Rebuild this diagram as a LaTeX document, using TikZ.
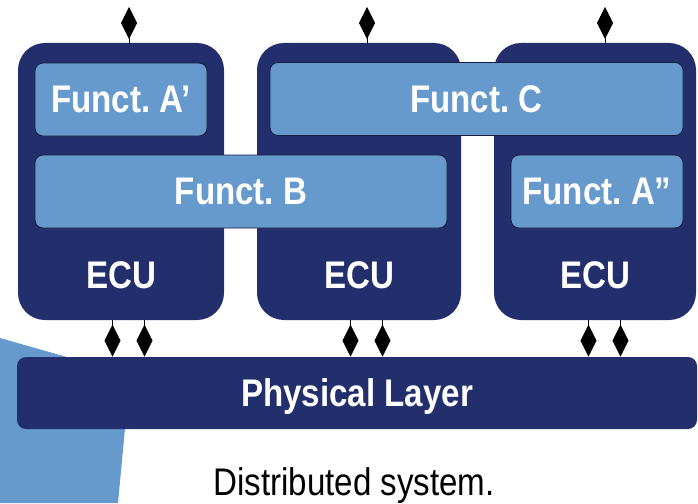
\documentclass[tikz,border=0pt]{standalone}
\usepackage{fontspec}
\setmainfont{Liberation Sans}[FakeStretch=0.86]
\usetikzlibrary{arrows.meta,calc,positioning}
\definecolor{navy}{RGB}{35,46,108}
\definecolor{lightblue}{RGB}{102,153,204}
\newcommand{\bigtext}{\fontsize{38.5}{40}\selectfont}
\frenchspacing
\begin{document}
\begin{tikzpicture}[x=1pt, y=-1pt, thick,
    ecu/.style = {fill=navy, rounded corners=27pt, minimum height=277pt, inner sep=0pt},
    funct/.style = {draw=navy!60!black, line width=0.8pt, fill=lightblue, rounded corners=8pt, minimum height=73pt, inner sep=0pt, text=white, font=\bfseries\bigtext, text depth=0pt},
    lbl/.style = {inner sep=0pt, text=white, font=\bfseries\bigtext, text depth=0pt},
    layer/.style = {fill=navy, rounded corners=9pt, minimum width=680pt, minimum height=72pt, inner sep=0pt, text=white, font=\bfseries\bigtext, text depth=0pt},
    dia/.style = {line width=0.6pt, -{Diamond[length=32pt, width=16pt]}}]
    \useasboundingbox (0,0) rectangle (698,503);

    % background
    \fill[lightblue] (0,338) -- (130,375) -- (118,503) -- (0,503) -- cycle;

    \node[ecu, minimum width=206pt] (e1) at (121,181.5) {};
    \node[ecu, minimum width=204pt] (e2) at (359,181.5) {};
    \node[ecu, minimum width=202pt] (e3) at (595,181.5) {};

    \node[funct, minimum width=172pt] (fa) at (121,99.5) {Funct. A’};
    \node[funct, minimum width=412pt] (fb) at (241,191.5) {Funct. B};
    \node[funct, minimum width=413pt] (fc) at (476.5,99) {Funct. C};
    \node[funct, minimum width=172pt] (fa2) at (597,191.5) {Funct. A”};

    \node[lbl, above=32pt of e1.south] (l1) {ECU};
    \node[lbl, above=32pt of e2.south] (l2) {ECU};
    \node[lbl, above=32pt of e3.south] (l3) {ECU};

    \node[layer] (pl) at (357,393) {Physical Layer};
    \node[inner sep=0pt, font=\bigtext, text depth=0pt] (cap) at (354,481.5) {Distributed system.};

    \foreach \n/\x in {e1/129, e2/367, e3/605} {
        \coordinate (t\n) at (\x,7);
        \draw[dia] (\n.north -| t\n) -- (t\n);
        \draw[dia] ($(\n.south -| t\n)+(-16.5,0)$) -- ($(pl.north -| t\n)+(-16.5,0)$);
        \draw[dia] ($(\n.south -| t\n)+(15.5,0)$) -- ($(pl.north -| t\n)+(15.5,0)$);
    }
\end{tikzpicture}
\end{document}
